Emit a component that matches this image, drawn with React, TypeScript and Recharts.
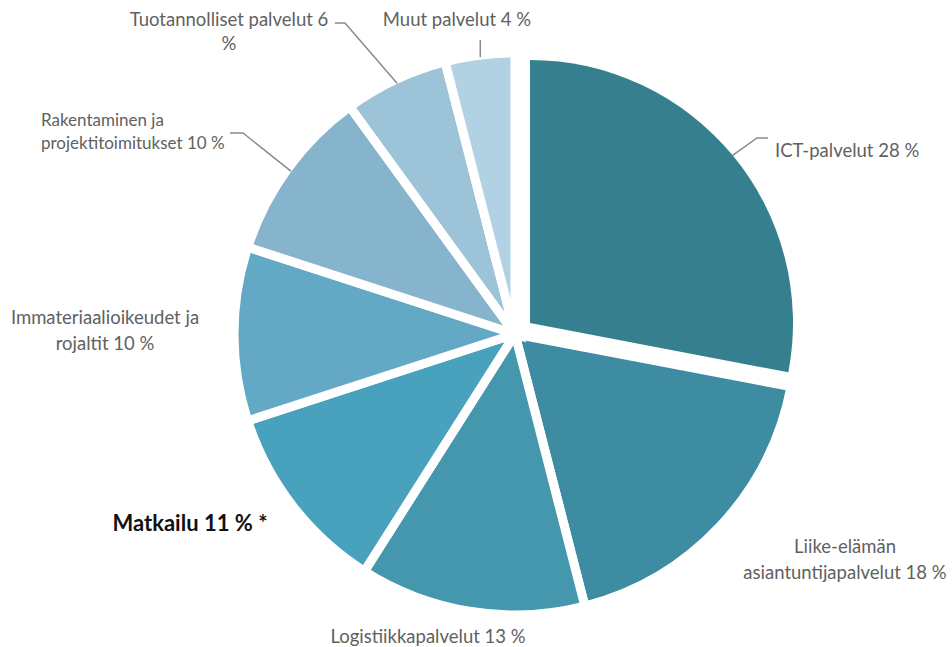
import { PieChart, Pie, Cell } from 'recharts'

const categories = [
  'ICT-palvelut',
  'Liike-elämän asiantuntijapalvelut',
  'Logistiikkapalvelut',
  'Matkailu',
  'Immateriaalioikeudet ja rojaltit',
  'Rakentaminen ja projektitoimitukset',
  'Tuotannolliset palvelut',
  'Muut palvelut',
]
const shares = [28, 18, 13, 11, 10, 10, 6, 4]
const labelTexts = [
  ['ICT-palvelut 28 %'],
  ['Liike-elämän', 'asiantuntijapalvelut 18 %'],
  ['Logistiikkapalvelut 13 %'],
  ['Matkailu 11 % *'],
  ['Immateriaalioikeudet ja', 'rojaltit 10 %'],
  ['Rakentaminen ja', 'projektitoimitukset 10 %'],
  ['Tuotannolliset palvelut 6', '%'],
  ['Muut palvelut 4 %'],
]
const COLORS = ['#367f8f', '#3e8ca1', '#4597ae', '#49a2bd', '#63a9c6', '#86b4cd', '#9cc3d8', '#b1d2e3']

const data = categories.map((name, i) => ({ name, value: shares[i] }))

// label layout: text spot + optional leader (elbow, end)
type Spot = {
  x: number
  y: number
  anchor: 'start' | 'middle' | 'end'
  gap?: number
  size?: number
  elbow?: [number, number]
  end?: [number, number]
  vertical?: number
}
const SPOTS: Spot[] = [
  { x: 775, y: 150, anchor: 'start', elbow: [757, 138], end: [768, 138] },
  { x: 845, y: 546, anchor: 'middle', gap: 26 },
  { x: 428, y: 636, anchor: 'middle' },
  { x: 190, y: 522, anchor: 'middle', size: 22 },
  { x: 105, y: 317, anchor: 'middle', gap: 26 },
  { x: 41, y: 119, anchor: 'start', gap: 23, size: 17, elbow: [243, 133], end: [230, 133] },
  { x: 229, y: 19, anchor: 'middle', gap: 24, elbow: [345, 23], end: [335, 23] },
  { x: 457, y: 19, anchor: 'middle', vertical: 40 },
]

const RAD = Math.PI / 180
const FONT = 'Lato, "Open Sans", sans-serif'

function makeLabel(only: 'ict' | 'rest', inset: number) {
  return (props: any) => {
    const { cx, cy, midAngle, outerRadius, index } = props
    if ((only === 'ict') !== (index === 0)) return null
    const s = SPOTS[index]
    const bold = index === 3
    const r = outerRadius - inset
    const ax = cx + r * Math.cos(-midAngle * RAD)
    const ay = cy + r * Math.sin(-midAngle * RAD)
    let pts = ''
    if (s.elbow) pts = `${ax},${ay} ${s.elbow[0]},${s.elbow[1]} ${s.end![0]},${s.end![1]}`
    else if (s.vertical !== undefined) pts = `${ax},${ay - 2} ${ax},${s.vertical}`
    return (
      <g>
        {pts && <polyline points={pts} fill="none" stroke="#8a8a8a" strokeWidth={1.5} />}
        {labelTexts[index].map((line, k) => (
          <text
            key={k}
            x={s.x}
            y={s.y + k * (s.gap ?? 0)}
            textAnchor={s.anchor}
            dominantBaseline="central"
            fontFamily={FONT}
            fontSize={s.size ?? 18.5}
            fontWeight={bold ? 700 : 400}
            fill={bold ? '#111111' : '#616161'}
          >
            {line}
          </text>
        ))}
      </g>
    )
  }
}

export default function App() {
  return (
    <div style={{ position: 'absolute', left: 0, top: 0, background: '#ffffff' }}>
      <PieChart width={952} height={647} margin={{ top: 0, right: 0, bottom: 0, left: 0 }}>
        <Pie
          data={data}
          dataKey="value"
          nameKey="name"
          cx={515}
          cy={334}
          outerRadius={281}
          startAngle={90}
          endAngle={-270}
          stroke="#ffffff"
          strokeWidth={9}
          labelLine={false}
          label={makeLabel('rest', 4)}
          isAnimationActive={false}
        >
          {data.map((entry, i) => (
            <Cell key={`base-${i}`} fill={i === 0 ? 'none' : COLORS[i]} stroke={i === 0 ? 'none' : '#ffffff'} />
          ))}
        </Pie>
        {/* exploded ICT slice */}
        <Pie
          data={data}
          dataKey="value"
          nameKey="name"
          cx={530}
          cy={323}
          outerRadius={263}
          startAngle={90}
          endAngle={-270}
          stroke="none"
          labelLine={false}
          label={makeLabel('ict', 0)}
          isAnimationActive={false}
        >
          {data.map((entry, i) => (
            <Cell key={`ict-${i}`} fill={i === 0 ? COLORS[0] : 'none'} stroke="none" />
          ))}
        </Pie>
      </PieChart>
    </div>
  )
}
